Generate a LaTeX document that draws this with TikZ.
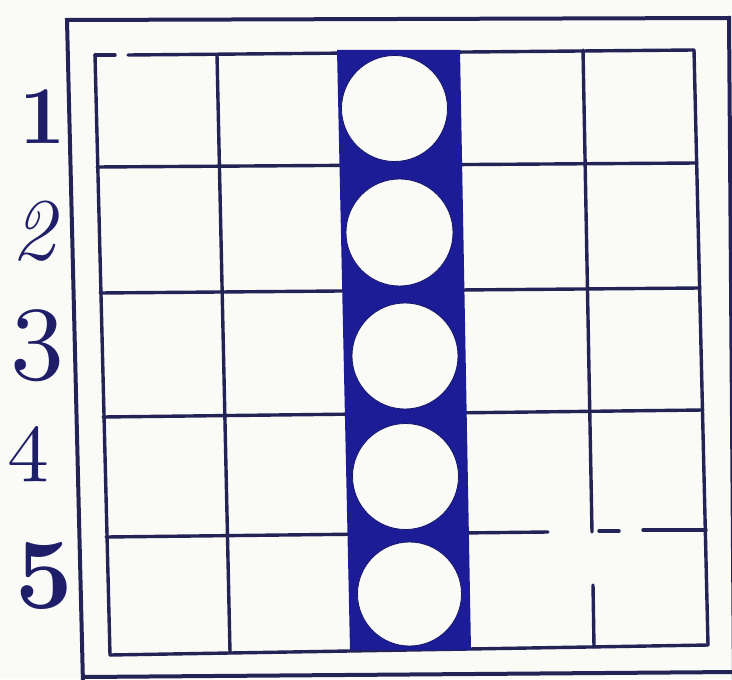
\documentclass[tikz,border=0pt]{standalone}
\usepackage{graphicx}
\usetikzlibrary{calc}
\definecolor{paper}{RGB}{250,250,246}
\definecolor{ink}{RGB}{35,35,85}
\definecolor{navy}{RGB}{28,28,150}
\definecolor{numink}{RGB}{30,30,105}
\newcommand{\osnum}[3]{\scalebox{#1}{\fontsize{10}{12}\usefont{OML}{cmm}{#2}{it}#3}}
\begin{document}
\begin{tikzpicture}[x=0.5pt,y=-0.5pt,
  gridline/.style={draw=ink,line width=1.7pt,line cap=round},
  frameline/.style={draw=ink,line width=2pt,line cap=round},
  column/.style={fill=navy},
  hole/.style={fill=paper,draw=navy!70!black,line width=0.4pt},
  numlabel/.style={text=numink,inner sep=0pt}]
\useasboundingbox (0,0) rectangle (732,679);
\fill[paper] (0,0) rectangle (732,679);
\clip (0,0) rectangle (732,679);
% outer frame
\draw[frameline] (83,684) -- (67,20) -- (729,18) -- (734,684);
\draw[frameline] (83,677) -- (734,672);
% grid verticals
\draw[gridline] (95,55) -- (110,655);
\draw[gridline] (217,55) -- (230,652);
\draw[gridline] (583,50) -- (592,532);
\draw[gridline] (593,585) -- (594,647);
\draw[gridline] (694,50) -- (708,645);
% grid horizontals
\draw[gridline] (95,55) -- (115,55);
\draw[gridline] (128,55) -- (694,50);
\draw[gridline] (97,167) -- (697,163);
\draw[gridline] (100,293) -- (700,288);
\draw[gridline] (103,417) -- (703,410);
\draw[gridline] (106,537) -- (548,532);
\draw[gridline] (599,531) -- (619,531);
\draw[gridline] (643,530) -- (706,530);
\draw[gridline] (110,655) -- (708,645);
% blue column
\fill[column] (337,50) -- (460,50) -- (471,650) -- (350,650) -- cycle;
% holes
\path[hole] (394.5,108.5) circle[radius=53];
\path[hole] (399.5,232.5) circle[radius=53.5];
\path[hole] (405,356) circle[radius=53];
\path[hole] (405.5,476.5) circle[radius=53];
\path[hole] (409.5,594) circle[radius=52];
% row numbers
\node[numlabel,font=\fontsize{41}{41}\selectfont\bfseries] (n1) at (42.5,116.5) {1};
\node[numlabel,font=\fontsize{44}{44}\selectfont\itshape] (n2) at (33,231) {2};
\node[numlabel] (n3) at (38,346) {\osnum{5.4}{m}{3}};
\node[numlabel] (n4) at (29,456) {\osnum{4.2}{m}{4}};
\node[numlabel] (n5) at (44,576) {\osnum{5.0}{b}{5}};
\end{tikzpicture}
\end{document}
